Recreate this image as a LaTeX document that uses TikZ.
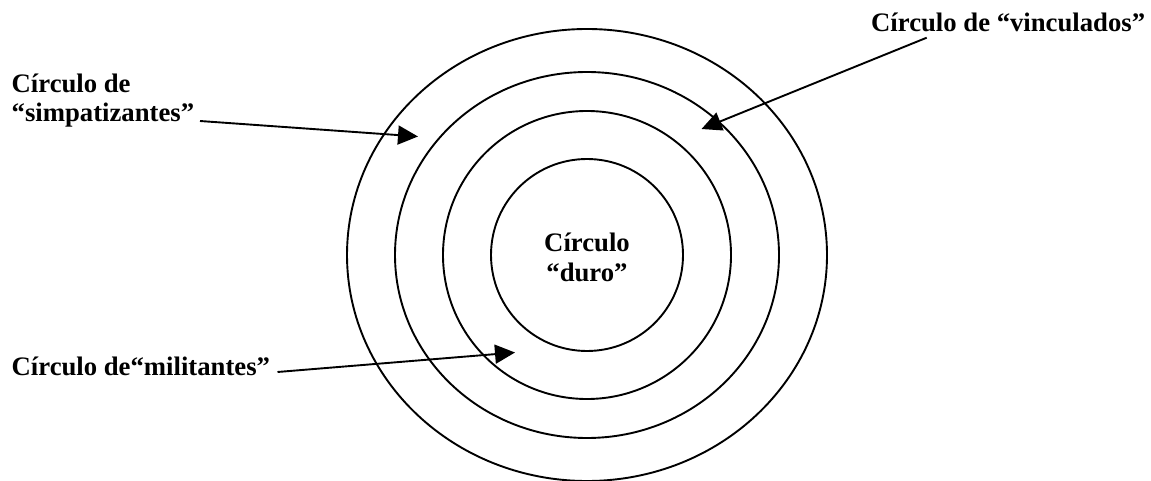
\documentclass[tikz,border=0pt]{standalone}
\usepackage{fontspec}
\setmainfont{Liberation Serif}
\usetikzlibrary{arrows.meta}
\begin{document}
\begin{tikzpicture}[x=1pt,y=-1pt,
  ring/.style={draw=black,line width=1.9pt},
  lbl/.style={font=\bfseries\fontsize{26.7}{29.4}\selectfont,inner sep=0pt,align=left},
  pointer/.style={draw=black,line width=1.9pt,-{Triangle[length=20pt,width=19pt]}}]
\useasboundingbox (0,0) rectangle (1151,481);
\coordinate (c) at (587,255);
\draw[ring] (c) ellipse [x radius=240, y radius=226];
\draw[ring] (c) ellipse [x radius=192, y radius=183];
\draw[ring] (c) ellipse [x radius=144, y radius=144];
\draw[ring] (c) ellipse [x radius=96, y radius=96];
\node[lbl,align=center,anchor=base] (duro) at (587,281) {Círculo\\“duro”};
\node[lbl,anchor=base west] (simp) at (11.5,121.7) {Círculo de\\“simpatizantes”};
\node[lbl,anchor=base west] (mili) at (11.5,375) {Círculo de“militantes”};
\node[lbl,anchor=base west] (vinc) at (871,31.7) {Círculo de “vinculados”};
\coordinate (simpS) at (200,121);
\coordinate (simpT) at (418,136.5);
\coordinate (miliS) at (277.5,372);
\coordinate (miliT) at (515,352.5);
\coordinate (vincS) at (926.7,37.7);
\coordinate (vincT) at (701.5,129);
\draw[pointer] (simpS) -- (simpT);
\draw[pointer] (miliS) -- (miliT);
\draw[pointer] (vincS) -- (vincT);
\end{tikzpicture}
\end{document}
